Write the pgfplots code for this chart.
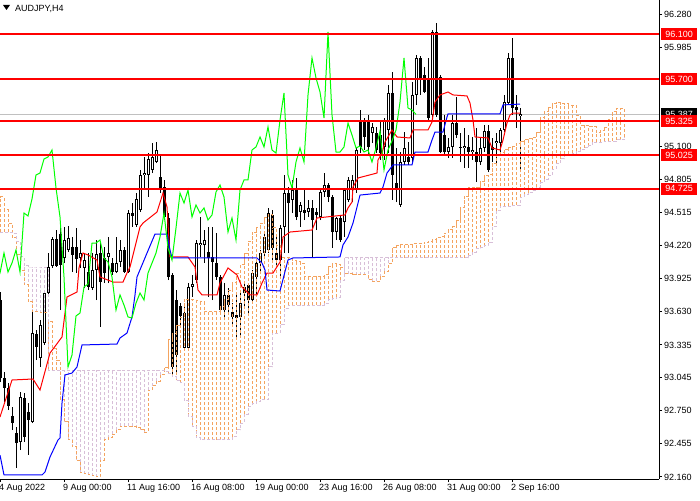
\documentclass[border=0pt]{standalone}
\usepackage{fontspec}
\setmainfont{Liberation Sans}
\usepackage{pgfplots}
\pgfplotsset{compat=1.18}
\usepackage{pgfplotstable}

\definecolor{sandy}{HTML}{F4A460}
\definecolor{thist}{HTML}{D8BFD8}
\definecolor{chik}{HTML}{00FF00}
\definecolor{silv}{HTML}{C0C0C0}

% AUDJPY H4 candles: bar index, open, high, low, close
\pgfplotstableread{
i o h l c
0 93.735 93.806 93.005 93.041
1 93.041 93.094 92.827 92.952
2 92.952 92.996 92.756 92.792
3 92.703 92.783 92.578 92.640
4 92.551 92.605 92.240 92.462
5 92.471 92.916 92.400 92.872
6 92.863 92.907 92.471 92.516
7 92.738 92.818 92.356 92.667
8 92.649 93.646 92.640 93.441
9 93.432 93.468 93.201 93.317
10 93.219 93.557 93.139 93.513
11 93.352 93.824 93.335 93.797
12 93.797 94.153 93.780 94.029
13 94.038 94.296 94.020 94.278
14 94.278 94.358 94.029 94.038
15 94.322 94.376 93.646 94.047
16 94.109 94.385 94.064 94.269
17 94.180 94.394 94.162 94.287
18 94.207 94.296 93.984 94.136
19 94.207 94.376 93.975 94.100
20 94.109 94.269 94.020 94.153
21 94.020 94.153 93.842 94.091
22 93.984 94.153 93.824 93.851
23 93.842 94.153 93.824 94.002
24 94.002 94.269 93.735 94.144
25 94.153 94.242 93.495 93.895
26 94.109 94.207 93.886 93.975
27 94.118 94.296 93.886 94.153
28 94.064 94.109 93.958 93.984
29 93.984 94.296 93.975 94.064
30 94.073 94.269 94.029 94.180
31 94.180 94.207 93.975 93.984
32 93.984 94.536 93.975 94.509
33 94.509 94.598 94.385 94.483
34 94.403 94.687 94.385 94.634
35 94.536 94.892 94.518 94.848
36 94.848 95.008 94.714 94.865
37 94.848 95.043 94.652 94.990
38 94.892 95.132 94.865 95.008
39 94.963 95.141 94.954 95.070
40 94.830 95.026 94.687 94.732
41 94.741 94.803 94.447 94.474
42 94.465 94.509 93.913 93.940
43 93.958 93.975 93.068 93.139
44 93.735 93.824 93.094 93.246
45 93.682 93.708 93.513 93.593
46 93.308 93.708 93.290 93.619
47 93.308 93.886 93.290 93.851
48 93.851 93.958 93.762 93.877
49 93.913 94.269 93.886 94.242
50 94.225 94.474 94.118 94.242
51 94.225 94.358 94.064 94.269
52 94.162 94.385 93.762 94.109
53 94.118 94.385 93.735 94.073
54 94.064 94.331 93.913 93.940
55 93.940 93.958 93.646 93.646
56 93.646 93.886 93.557 93.780
57 93.780 93.842 93.628 93.690
58 93.628 93.708 93.495 93.584
59 93.602 93.797 93.406 93.575
60 93.584 93.797 93.397 93.708
61 93.851 93.886 93.673 93.797
62 93.869 93.886 93.619 93.735
63 93.735 94.002 93.717 93.975
64 93.940 94.091 93.762 94.064
65 94.064 94.180 93.975 94.153
66 94.153 94.331 94.109 94.296
67 94.180 94.554 94.153 94.509
68 94.492 94.536 94.091 94.198
69 94.153 94.314 94.047 94.091
70 94.091 94.403 93.940 94.376
71 94.385 94.848 94.153 94.687
72 94.687 94.741 94.153 94.598
73 94.625 94.803 94.509 94.714
74 94.732 94.821 94.447 94.474
75 94.518 94.607 94.385 94.581
76 94.536 94.714 94.447 94.509
77 94.518 94.625 94.474 94.554
78 94.554 94.625 94.109 94.447
79 94.518 94.554 94.358 94.492
80 94.474 94.714 94.447 94.696
81 94.696 94.865 94.652 94.759
82 94.759 94.776 94.607 94.652
83 94.652 94.670 94.198 94.340
84 94.340 94.474 94.269 94.465
85 94.465 94.492 94.251 94.269
86 94.429 94.732 94.296 94.714
87 94.625 94.830 94.607 94.803
88 94.714 94.848 94.607 94.803
89 94.714 95.097 94.687 95.070
90 95.337 95.426 95.043 95.097
91 95.337 95.355 95.070 95.186
92 95.319 95.381 95.026 95.097
93 95.221 95.310 95.132 95.275
94 95.221 95.275 95.043 95.070
95 95.204 95.337 94.981 95.043
96 95.097 95.355 94.981 95.337
97 95.248 95.649 95.043 95.577
98 95.577 95.764 94.625 94.848
99 94.776 95.088 94.607 94.732
100 94.581 95.052 94.563 94.963
101 94.963 95.230 94.937 95.088
102 95.008 95.141 94.937 94.963
103 94.999 95.675 94.963 95.560
104 95.560 95.916 95.471 95.889
105 95.889 95.907 95.560 95.711
106 95.738 95.809 95.577 95.586
107 95.693 95.889 95.319 95.355
108 95.382 96.138 95.364 96.120
109 96.120 96.200 95.364 95.382
110 95.720 95.738 95.043 95.052
111 95.204 95.382 95.026 95.052
112 95.052 95.177 94.999 95.097
113 95.097 95.382 94.999 95.310
114 95.310 95.542 95.177 95.204
115 95.097 95.221 94.963 95.088
116 95.088 95.266 94.910 95.106
117 95.097 95.204 94.910 95.052
118 95.052 95.186 94.981 95.070
119 95.052 95.266 94.785 94.963
120 94.963 95.177 94.937 95.088
121 95.088 95.293 95.052 95.239
122 95.239 95.293 94.874 94.892
123 95.097 95.177 94.963 95.070
124 95.132 95.221 94.954 95.150
125 95.132 95.266 95.052 95.248
126 95.248 95.560 95.230 95.497
127 95.488 95.933 95.471 95.889
128 95.889 96.067 95.382 95.444
129 95.453 95.560 95.266 95.426
130 95.370 95.444 94.874 95.387
}\candles

% Tenkan-sen
\pgfplotstableread{
i p
0 92.694
3 93.023
8.25 93.032
10 92.934
12.5 93.263
15.5 93.406
16.75 93.762
19.25 93.806
19.75 94.020
20.75 94.153
22 94.136
24.25 94.091
25 93.940
28.25 93.895
30.75 93.895
31.75 93.975
32.5 94.029
35 94.385
35.75 94.420
39.25 94.518
40.75 94.687
41.75 94.563
42.5 94.118
47 94.118
48.75 94.029
49.5 93.824
50.5 93.780
54.25 93.780
55 93.886
57 94.020
59.25 93.958
60.5 93.851
62.5 93.780
64.25 93.780
65.5 93.886
66.75 93.975
68.25 93.975
70 94.073
70.75 94.296
72.5 94.340
78 94.358
79.25 94.465
86.25 94.492
87 94.554
88 94.607
88.25 94.741
89.5 94.821
94.25 94.865
94.5 94.981
95.5 95.043
96.25 95.141
98 95.248
99.25 95.186
102.5 95.177
103.25 95.248
107 95.248
108 95.319
108.75 95.497
110 95.560
112 95.586
113.25 95.560
116.75 95.551
117.5 95.488
118.25 95.337
118.75 95.186
122 95.177
123 95.088
125 95.070
125.75 95.159
126.75 95.311
127.5 95.382
128.25 95.399
130 95.399
}\tenkan

% Kijun-sen
\pgfplotstableread{
i p
0 92.355
1 92.178
10.5 92.178
11.25 92.204
12.5 92.338
14.5 92.489
15 92.507
15.5 92.818
16.25 93.068
18 93.085
19.25 93.139
20.5 93.335
29.25 93.343
30 93.397
31.75 93.441
33 93.584
33.75 93.780
34.25 93.940
36.75 94.153
38.75 94.322
41.75 94.322
42.5 94.180
43 94.109
64.25 94.109
65.5 94.064
66.25 94.002
66.75 93.824
70 93.815
72 94.091
73.25 94.109
85 94.118
85.75 94.225
87 94.296
88.25 94.420
90 94.669
95 94.687
95.75 94.741
96.75 94.865
98.25 94.937
103 94.937
103.75 95.052
107 95.052
108 95.159
108.75 95.230
110.75 95.230
111.75 95.364
112 95.391
125 95.391
125.75 95.471
130 95.479
}\kijun

% Senkou span A and B, one row per bar (cloud projected 26 bars ahead)
\pgfplotstableread{
i a b
0 94.652 94.34
1 94.54 94.34
2 94.42 94.34
3 94.29 94.33
4 94.14 94.26
5 94.00 94.12
6 93.87 94.04
7 93.72 94.02
8 93.63 94.02
9 93.63 94.02
10 93.62 94.02
11 93.62 94.02
12 93.54 93.11
13 93.30 93.11
14 93.20 93.11
15 92.85 93.11
16 92.65 93.11
17 92.49 93.11
18 92.43 93.11
19 92.31 93.11
20 92.20 93.11
21 92.19 93.11
22 92.18 93.11
23 92.17 93.11
24 92.16 93.11
25 92.31 93.11
26 92.49 93.11
27 92.51 93.11
28 92.54 93.11
29 92.58 93.11
30 92.61 93.11
31 92.61 93.11
32 92.61 93.11
33 92.61 93.11
34 92.60 93.11
35 92.58 93.11
36 92.56 93.11
37 92.93 93.11
38 92.97 93.11
39 93.01 93.11
40 93.07 93.11
41 93.13 93.10
42 93.38 93.08
43 93.44 93.05
44 93.51 93.02
45 93.58 93.00
46 93.74 92.84
47 93.74 92.70
48 93.74 92.61
49 93.73 92.51
50 93.72 92.49
51 93.63 92.49
52 93.63 92.49
53 93.63 92.49
54 93.63 92.49
55 93.68 92.49
56 93.74 92.49
57 93.82 92.49
58 93.89 92.52
59 93.97 92.58
60 94.05 92.64
61 94.15 92.72
62 94.26 92.79
63 94.34 92.81
64 94.38 92.83
65 94.42 92.85
66 94.47 92.85
67 94.50 93.14
68 94.38 93.44
69 94.22 93.44
70 94.11 93.52
71 94.11 93.66
72 94.11 93.69
73 94.09 93.69
74 94.08 93.69
75 94.06 93.69
76 93.94 93.69
77 93.94 93.69
78 93.94 93.69
79 93.94 93.69
80 93.94 93.69
81 93.96 93.70
82 94.03 93.74
83 94.06 93.75
84 94.05 93.76
85 94.02 93.91
86 93.97 94.11
87 93.97 94.11
88 93.96 94.11
89 93.96 94.11
90 93.96 94.11
91 93.96 94.11
92 93.92 94.11
93 93.90 94.11
94 93.90 94.11
95 93.94 94.11
96 93.99 94.11
97 94.06 94.11
98 94.20 94.11
99 94.22 94.11
100 94.23 94.11
101 94.23 94.11
102 94.23 94.11
103 94.24 94.11
104 94.24 94.11
105 94.24 94.11
106 94.25 94.11
107 94.26 94.11
108 94.27 94.11
109 94.29 94.11
110 94.30 94.11
111 94.33 94.11
112 94.36 94.11
113 94.39 94.11
114 94.44 94.11
115 94.56 94.11
116 94.66 94.11
117 94.74 94.13
118 94.74 94.16
119 94.74 94.19
120 94.79 94.20
121 94.84 94.22
122 94.85 94.25
123 94.95 94.39
124 95.02 94.53
125 95.05 94.57
126 95.07 94.57
127 95.09 94.57
128 95.10 94.58
129 95.13 94.58
130 95.15 94.65
131 95.16 94.67
132 95.17 94.69
133 95.18 94.71
134 95.23 94.74
135 95.36 94.78
136 95.41 94.81
137 95.45 94.84
138 95.48 94.90
139 95.49 94.95
140 95.48 94.99
141 95.48 95.03
142 95.47 95.03
143 95.47 95.04
144 95.38 95.06
145 95.29 95.07
146 95.29 95.09
147 95.28 95.11
148 95.28 95.14
149 95.23 95.14
150 95.24 95.14
151 95.27 95.15
152 95.34 95.15
153 95.41 95.15
154 95.44 95.16
155 95.44 95.16
156 95.44 95.19
}\kumo

\begin{document}
\begin{tikzpicture}[
  lvl/.style={fill=red, text=white, anchor=west, inner sep=0pt,
    minimum width=36pt, minimum height=12pt, xshift=2pt,
    font=\fontsize{9}{10}\selectfont}]
\begin{axis}[
  width=659pt, height=479pt, scale only axis,
  xmin=0, xmax=164.75, ymin=92.142, ymax=96.405,
  axis x line*=bottom, axis y line*=right,
  axis line style={black, line width=1pt},
  tick style={black, line width=1pt},
  tick align=outside, major tick length=3pt,
  xtick={0,16,...,128},
  xticklabels={4 Aug 2022, 9 Aug 00:00, 11 Aug 16:00, 16 Aug 08:00, 19 Aug 00:00,
    23 Aug 16:00, 26 Aug 08:00, 31 Aug 00:00, 2 Sep 16:00},
  ytick={92.160,92.455,92.750,93.045,93.335,93.630,93.925,94.220,94.515,94.805,95.100,95.985,96.280},
  yticklabels={92.160,92.455,92.750,93.045,93.335,93.630,93.925,94.220,94.515,94.805,95.100,95.985,96.280},
  tick label style={font=\fontsize{9}{10}\selectfont},
  xticklabel style={anchor=north west, inner sep=0pt, xshift=-1pt, yshift=-2pt},
  yticklabel style={anchor=west, inner sep=0pt, xshift=2pt},
  clip mode=individual,
]
% current price line
\addplot[silv, line width=1pt] coordinates {(0,95.387) (164.75,95.387)};

% candle wicks
\addplot[draw=none, mark=none, error bars/.cd, y dir=plus, y explicit, error mark=none,
  error bar style={draw=black, line width=1pt}]
  table[x=i, y=l, y error plus expr=\thisrow{h}-\thisrow{l}] {\candles};
% candle bodies
\addplot[draw=none, mark=none, error bars/.cd, y dir=plus, y explicit, error mark=none,
  error bar style={draw=black, line width=3pt}]
  table[x=i, y expr={min(\thisrow{o},\thisrow{c})},
    y error plus expr={max(abs(\thisrow{c}-\thisrow{o}),0.009)}] {\candles};
% hollow inside of rising candles
\addplot[draw=none, mark=none, error bars/.cd, y dir=plus, y explicit, error mark=none,
  error bar style={draw=white, line width=1pt, shorten <=1pt, shorten >=1pt}]
  table[x=i, y expr={\thisrow{c}>\thisrow{o} ? \thisrow{o} : nan},
    y error plus expr={\thisrow{c}-\thisrow{o}}] {\candles};

% kumo hatching: dashed vertical line per bar, sandy where A is above B, thistle where B is above A
\addplot[draw=none, mark=none, error bars/.cd, y dir=plus, y explicit, error mark=none,
  error bar style={draw=sandy, line width=1pt, dash pattern=on 3pt off 2pt}]
  table[x=i, y expr={\thisrow{a}>\thisrow{b} ? \thisrow{b} : nan},
    y error plus expr={\thisrow{a}-\thisrow{b}}] {\kumo};
\addplot[draw=none, mark=none, error bars/.cd, y dir=plus, y explicit, error mark=none,
  error bar style={draw=thist, line width=1pt, dash pattern=on 3pt off 2pt}]
  table[x=i, y expr={\thisrow{b}>\thisrow{a} ? \thisrow{a} : nan},
    y error plus expr={\thisrow{b}-\thisrow{a}}] {\kumo};
\addplot[sandy, line width=1pt, dash pattern=on 3pt off 2pt, const plot] table[x=i, y=a] {\kumo};
\addplot[thist, line width=1pt, dash pattern=on 3pt off 2pt, const plot] table[x=i, y=b] {\kumo};

% ichimoku lines
\addplot[red, line width=1pt] table[x=i, y=p] {\tenkan};
\addplot[blue, line width=1pt] table[x=i, y=p] {\kijun};
\addplot[chik, line width=1pt] table[x expr=\thisrow{i}-26, y=c] {\candles};

% horizontal levels
\addplot[red, line width=2pt] coordinates {(0,96.100) (164.75,96.100)};
\addplot[red, line width=2pt] coordinates {(0,95.700) (164.75,95.700)};
\addplot[red, line width=2pt] coordinates {(0,95.325) (164.75,95.325)};
\addplot[red, line width=2pt] coordinates {(0,95.025) (164.75,95.025)};
\addplot[red, line width=2pt] coordinates {(0,94.725) (164.75,94.725)};

\node[lvl] at (axis cs:164.75,96.100) {96.100};
\node[lvl] at (axis cs:164.75,95.700) {95.700};
\node[lvl, fill=black] at (axis cs:164.75,95.387) {95.387};
\node[lvl] at (axis cs:164.75,95.325) {95.325};
\node[lvl] at (axis cs:164.75,95.025) {95.025};
\node[lvl] at (axis cs:164.75,94.725) {94.725};
\end{axis}

% symbol title
\fill (3pt,474pt) -- (10pt,474pt) -- (6.5pt,469pt) -- cycle;
\node[anchor=west, inner sep=0pt, font=\fontsize{9}{10}\selectfont] at (15pt,470pt) {AUDJPY,H4};

\pgfresetboundingbox
\path (0pt,-21pt) rectangle (700pt,479pt);
\end{tikzpicture}
\end{document}
